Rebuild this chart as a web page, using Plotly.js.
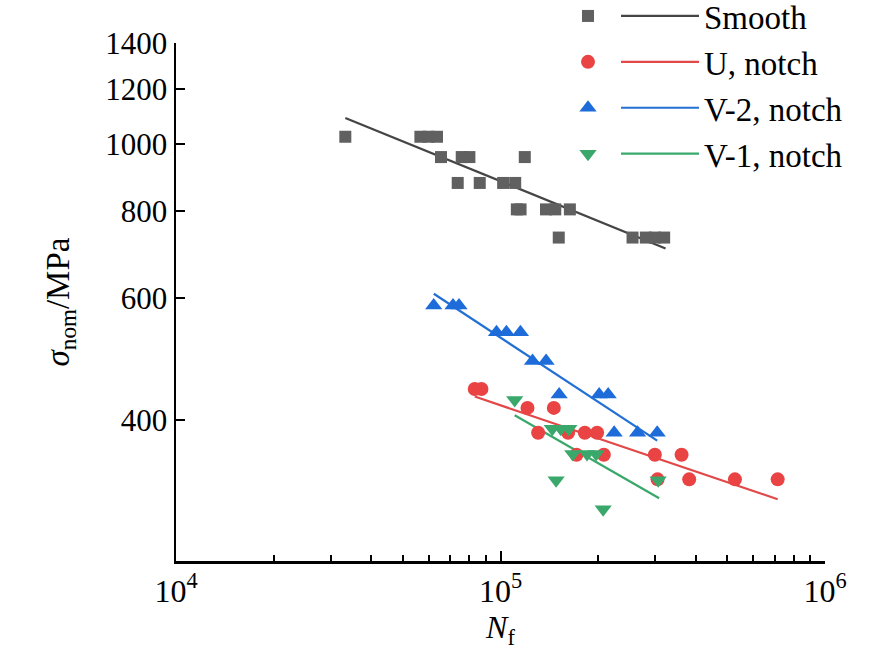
<!DOCTYPE html>
<html>
<head>
<meta charset="utf-8">
<script src="https://cdn.plot.ly/plotly-3.0.1.min.js"></script>
<style>html,body{margin:0;padding:0;background:#fff;}#chart{width:886px;height:665px;}</style>
</head>
<body>
<div id="chart"></div>
<script>
// ---- data ----
var seriesNames = ['Smooth', 'U, notch', 'V-2, notch', 'V-1, notch'];

var smoothN = [33250, 56640, 59960, 63740,
               65560, 75950, 80190, 118800,
               73820, 86300, 101900, 111000,
               112300, 115300, 138100, 147500, 163600,
               151200, 255200, 280500, 299000, 319400];
var smoothS = [1025, 1025, 1025, 1025,
               958, 958, 958, 958,
               879, 879, 879, 879,
               805, 805, 805, 805, 805,
               733, 733, 733, 733, 733];

var uN = [83300, 87350,
          121100, 146000,
          130600, 161600, 181900, 198500,
          171500, 208200, 299000, 361400,
          304800, 381500, 527800, 714800];
var uS = [443, 443,
          416, 416,
          383, 383, 383, 383,
          356, 356, 356, 356,
          328, 328, 328, 328];

var v2N = [62250, 71400, 74500,
           97200, 104300, 115200,
           125500, 138200,
           151600, 201400, 214700,
           224000, 264500, 304000];
var v2S = [585, 585, 585,
           535, 535, 535,
           486, 486,
           435, 435, 435,
           383, 383, 383];

var v1N = [110600,
           144400, 153400, 162400,
           167000, 184800, 197100,
           148400, 306100,
           207200];
var v1S = [427,
           388, 388, 388,
           357, 357, 357,
           327, 327,
           297];

// fitted lines (end points)
var smoothFitN = [33250, 322600], smoothFitS = [1091, 707];
var uFitN = [83300, 714800],      uFitS = [432, 307];
var v2FitN = [62300, 304000],     v2FitS = [608, 373];
var v1FitN = [110600, 308300],    v1FitS = [406, 308];

// tick labels
var yTickVals = [400, 600, 800, 1000, 1200, 1400];
var yTickText = ['400', '600', '800', '1000', '1200', '1400'];
var xTickVals = [1e4, 1e5, 1e6];
var xTickText = ['10<sup>4</sup>', '10<sup>5</sup>', '10<sup>6</sup>'];
var xMinorVals = [2e4, 3e4, 4e4, 5e4, 6e4, 7e4, 8e4, 9e4,
                  2e5, 3e5, 4e5, 5e5, 6e5, 7e5, 8e5, 9e5];

// ---- styles ----
var markerColors = ['#606060', '#e94343', '#1d6cd9', '#3aa86b'];
var lineColors = ['#454545', '#e24848', '#2270d4', '#3aa86b'];
var symbols = ['square', 'circle', 'triangle-up', 'triangle-down'];
var sizes = [12, 14, 15, 15];

var ptsX = [smoothN, uN, v2N, v1N];
var ptsY = [smoothS, uS, v2S, v1S];
var fitX = [smoothFitN, uFitN, v2FitN, v1FitN];
var fitY = [smoothFitS, uFitS, v2FitS, v1FitS];

var traces = [];
for (var i = 0; i < 4; i++) {
  traces.push({
    x: fitX[i], y: fitY[i], type: 'scatter', mode: 'lines',
    name: seriesNames[i], legend: 'legend',
    line: {color: lineColors[i], width: 2.2},
    hoverinfo: 'skip'
  });
}
for (var j = 0; j < 4; j++) {
  traces.push({
    x: ptsX[j], y: ptsY[j], type: 'scatter', mode: 'markers',
    name: ' ', legend: 'legend2',
    marker: {symbol: symbols[j], size: sizes[j], color: markerColors[j], line: {width: 0}},
    cliponaxis: false
  });
}

var font = 'Liberation Serif, Times New Roman, serif';
var plotH = 665 - 43 - 104;
var layout = {
  width: 886, height: 665,
  margin: {l: 176, r: 61, t: 43, b: 104, autoexpand: false},
  paper_bgcolor: '#ffffff', plot_bgcolor: '#ffffff',
  font: {family: font, color: '#000000', size: 31},
  showlegend: true,
  xaxis: {
    type: 'log', range: [4, 6],
    tickmode: 'array', tickvals: xTickVals, ticktext: xTickText,
    ticks: 'inside', ticklen: 10, tickwidth: 2, tickcolor: '#000',
    minor: {tickmode: 'array', tickvals: xMinorVals, ticks: 'inside', ticklen: 6, tickwidth: 2, tickcolor: '#000', showgrid: false},
    showline: true, linecolor: '#000', linewidth: 2.5,
    showgrid: false, zeroline: false, mirror: false,
    tickfont: {family: font, size: 32, color: '#000'},
    title: {text: '<i>N</i><sub>f</sub>', font: {family: font, size: 32, color: '#000'}, standoff: 8}
  },
  yaxis: {
    type: 'log', range: [Math.log10(250), Math.log10(1400)],
    tickmode: 'array', tickvals: yTickVals, ticktext: yTickText,
    ticks: 'inside', ticklen: 9, tickwidth: 2, tickcolor: '#000',
    showline: true, linecolor: '#000', linewidth: 2.5,
    showgrid: false, zeroline: false, mirror: false,
    tickfont: {family: font, size: 31, color: '#000'},
    title: {text: '<i>σ</i><sub>nom</sub>/MPa', font: {family: font, size: 33, color: '#000'}, standoff: 26}
  },
  legend: {
    x: (616 - 176) / 649, xanchor: 'left', y: (561 + 12) / plotH, yanchor: 'top',
    bgcolor: 'rgba(0,0,0,0)', borderwidth: 0,
    font: {family: font, size: 33, color: '#000'},
    itemwidth: 78, tracegroupgap: 0
  },
  legend2: {
    x: (568 - 176) / 649, xanchor: 'left', y: (561 + 12) / plotH, yanchor: 'top',
    bgcolor: 'rgba(0,0,0,0)', borderwidth: 0,
    font: {family: font, size: 33, color: '#000'},
    itemwidth: 30, tracegroupgap: 0
  }
};

Plotly.newPlot('chart', traces, layout, {displayModeBar: false, staticPlot: true});
</script>
</body>
</html>
